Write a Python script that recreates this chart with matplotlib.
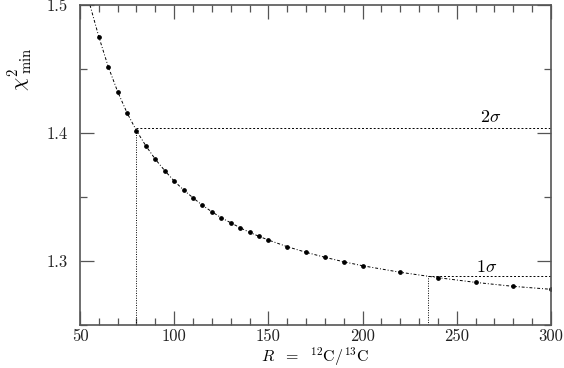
import matplotlib
matplotlib.use("Agg")
import matplotlib.pyplot as plt
from matplotlib.ticker import MultipleLocator

plt.rcParams['mathtext.fontset'] = 'cm'
plt.rcParams['font.family'] = ['cmr10', 'DejaVu Serif']
plt.rcParams['axes.formatter.use_mathtext'] = True

# Data
R = [60, 65, 70, 75, 80, 85, 90, 95, 100, 105, 110, 115, 120, 125, 130, 135,
     140, 145, 150, 160, 170, 180, 190, 200, 220, 240, 260, 280, 300]
chi2 = [1.4752, 1.4518, 1.4323, 1.4157, 1.4018, 1.3899, 1.3795, 1.3706, 1.3625,
        1.3555, 1.3494, 1.3435, 1.3385, 1.3338, 1.3299, 1.3260, 1.3224, 1.3193,
        1.3164, 1.3112, 1.3068, 1.3029, 1.2994, 1.2963, 1.2912, 1.2870, 1.2833,
        1.2802, 1.2779]
# fit curve start (top of frame)
curve_start_R = 55.3
curve_start_chi = 1.5

sigma2_level = 1.4040
sigma2_R = 80.0
sigma1_level = 1.2883
sigma1_R = 234.5

fig = plt.figure(figsize=(5.64, 3.68), dpi=100)
ax = fig.add_axes([0.1418, 0.1168, 0.8351, 0.8696])

ax.plot([curve_start_R] + R, [curve_start_chi] + chi2, color='black', lw=0.7,
        linestyle=(0, (3, 2, 1, 2)))
ax.plot(R, chi2, 'o', color='black', ms=2.4)

ax.plot([sigma2_R, 300], [sigma2_level, sigma2_level], color='black', lw=0.7, linestyle=(0, (2, 2)))
ax.plot([sigma2_R, sigma2_R], [1.25, sigma2_level], color='black', lw=0.7, linestyle=(0, (1, 1.5)))
ax.plot([sigma1_R, 300], [sigma1_level, sigma1_level], color='black', lw=0.7, linestyle=(0, (2, 2)))
ax.plot([sigma1_R, sigma1_R], [1.25, sigma1_level], color='black', lw=0.7, linestyle=(0, (1, 1.5)))

ax.text(268, 1.4125, r'$2\sigma$', fontsize=13, ha='center', va='center')
ax.text(266, 1.2955, r'$1\sigma$', fontsize=13, ha='center', va='center')

ax.set_xlim(50, 300)
ax.set_ylim(1.25, 1.5)
ax.xaxis.set_major_locator(MultipleLocator(50))
ax.xaxis.set_minor_locator(MultipleLocator(10))
ax.yaxis.set_major_locator(MultipleLocator(0.1))
ax.yaxis.set_minor_locator(MultipleLocator(0.05))
ax.tick_params(which='both', direction='in', top=True, right=True, colors='#555555',
               labelcolor='#222222', labelsize=12, width=0.9)
ax.tick_params(which='major', length=10, pad=3)
ax.tick_params(axis='y', which='major', pad=9)
ax.tick_params(which='minor', length=5)
ax.set_xticks([50, 100, 150, 200, 250, 300])
ax.set_xticklabels(['50', '100', '150', '200', '250', '300'])
ax.set_yticks([1.3, 1.4, 1.5])
ax.set_yticklabels(['1.3', '1.4', '1.5'])
for s in ax.spines.values():
    s.set_color('#555555')
    s.set_linewidth(1.2)

ax.set_xlabel(r'$R\ \ =\ \ ^{12}\mathrm{C}/^{13}\mathrm{C}$', fontsize=11.5, va='center')
ax.xaxis.set_label_coords(0.5, -0.099)
ax.set_ylabel(r'$\chi^2_{\ \mathrm{min}}$', fontsize=15)
ax.yaxis.set_label_coords(-0.095, 0.80)

fig.savefig('out.png', dpi=100)
